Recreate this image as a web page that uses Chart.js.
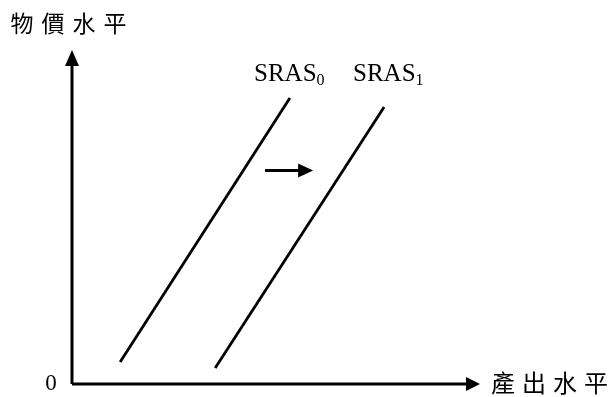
<!DOCTYPE html>
<html>
<head>
<meta charset="utf-8">
<script src="https://cdn.jsdelivr.net/npm/chart.js@4"></script>
<style>
  html, body { margin: 0; padding: 0; background: #ffffff; }
  #wrap { width: 616px; height: 397px; }
</style>
</head>
<body>
<div id="wrap"><canvas id="c" width="616" height="397"></canvas></div>
<script>
// ---- data (economic units: output on x, price level on y) ----
const axisLabels = { x: "產出水平", y: "物價水平", origin: "0" };
const seriesNames = ["SRAS", "SRAS"];
const seriesSubs = ["0", "1"];
const sras0X = [1.18, 5.34];
const sras0Y = [0.66, 8.56];
const sras1X = [3.51, 7.65];
const sras1Y = [0.48, 8.29];
const shiftArrowX = [4.73, 5.91];
const shiftArrowY = [6.39, 6.39];
const xRange = [0, 10];
const yRange = [0, 10];

function pts(xs, ys) { return xs.map((x, i) => ({ x: x, y: ys[i] })); }

const arrowPlugin = {
  id: 'arrows',
  afterDatasetsDraw(chart) {
    const ctx = chart.ctx;
    const xs = chart.scales.x, ys = chart.scales.y;
    const ox = xs.getPixelForValue(xRange[0]);
    const oy = ys.getPixelForValue(yRange[0]);
    const tx = xs.getPixelForValue(xRange[1]);
    const ty = ys.getPixelForValue(yRange[1]);
    ctx.save();
    ctx.fillStyle = '#000';
    // y axis arrowhead
    ctx.beginPath();
    ctx.moveTo(ox, ty);
    ctx.lineTo(ox - 7, ty + 16);
    ctx.lineTo(ox + 7, ty + 16);
    ctx.closePath();
    ctx.fill();
    // x axis arrowhead
    ctx.beginPath();
    ctx.moveTo(tx, oy);
    ctx.lineTo(tx - 14, oy - 7);
    ctx.lineTo(tx - 14, oy + 7);
    ctx.closePath();
    ctx.fill();
    // shift arrow head
    const ax = xs.getPixelForValue(shiftArrowX[1]);
    const ay = ys.getPixelForValue(shiftArrowY[1]);
    ctx.beginPath();
    ctx.moveTo(ax, ay);
    ctx.lineTo(ax - 15, ay - 7);
    ctx.lineTo(ax - 15, ay + 7);
    ctx.closePath();
    ctx.fill();

    // axis labels
    ctx.textBaseline = 'middle';
    ctx.textAlign = 'center';
    ctx.font = '23px "Noto Sans CJK TC", "Noto Sans CJK SC", sans-serif';
    const yl = Array.from(axisLabels.y);
    yl.forEach((ch, i) => ctx.fillText(ch, 22 + i * 31, 23));
    ctx.font = '24px "Noto Sans CJK TC", "Noto Sans CJK SC", sans-serif';
    const xl = Array.from(axisLabels.x);
    xl.forEach((ch, i) => ctx.fillText(ch, tx + 23 + i * 31, oy - 1));
    ctx.font = '23px "Liberation Serif", "Times New Roman", serif';
    ctx.fillText(axisLabels.origin, ox - 21, oy);

    // series labels
    ctx.textAlign = 'left';
    ctx.textBaseline = 'alphabetic';
    const labelPos = [[254, 81], [353, 81]];
    seriesNames.forEach((n, i) => {
      ctx.font = '25px "Liberation Serif", "Times New Roman", serif';
      ctx.fillText(n, labelPos[i][0], labelPos[i][1]);
      const w = ctx.measureText(n).width;
      ctx.font = '16px "Liberation Serif", "Times New Roman", serif';
      ctx.fillText(seriesSubs[i], labelPos[i][0] + w, labelPos[i][1] + 4);
    });
    ctx.restore();
  }
};

new Chart(document.getElementById('c'), {
  type: 'scatter',
  data: {
    datasets: [
      { data: pts([xRange[0], xRange[1] - 0.3], [yRange[0], yRange[0]]), borderWidth: 3 },
      { data: pts([xRange[0], xRange[0]], [yRange[0], yRange[1] - 0.4]), borderWidth: 3 },
      { data: pts(sras0X, sras0Y), borderWidth: 2.8 },
      { data: pts(sras1X, sras1Y), borderWidth: 2.8 },
      { data: pts([shiftArrowX[0], shiftArrowX[1] - 0.3], shiftArrowY), borderWidth: 3 }
    ].map(d => Object.assign(d, {
      showLine: true, borderColor: '#000', pointRadius: 0, fill: false, tension: 0, clip: false,
      borderCapStyle: 'butt'
    }))
  },
  plugins: [arrowPlugin],
  options: {
    responsive: false,
    animation: false,
    devicePixelRatio: 1,
    layout: { padding: { left: 72, top: 50, right: 136, bottom: 13 } },
    plugins: { legend: { display: false }, tooltip: { enabled: false } },
    scales: {
      x: { type: 'linear', min: xRange[0], max: xRange[1], display: false },
      y: { type: 'linear', min: yRange[0], max: yRange[1], display: false }
    }
  }
});
</script>
</body>
</html>
